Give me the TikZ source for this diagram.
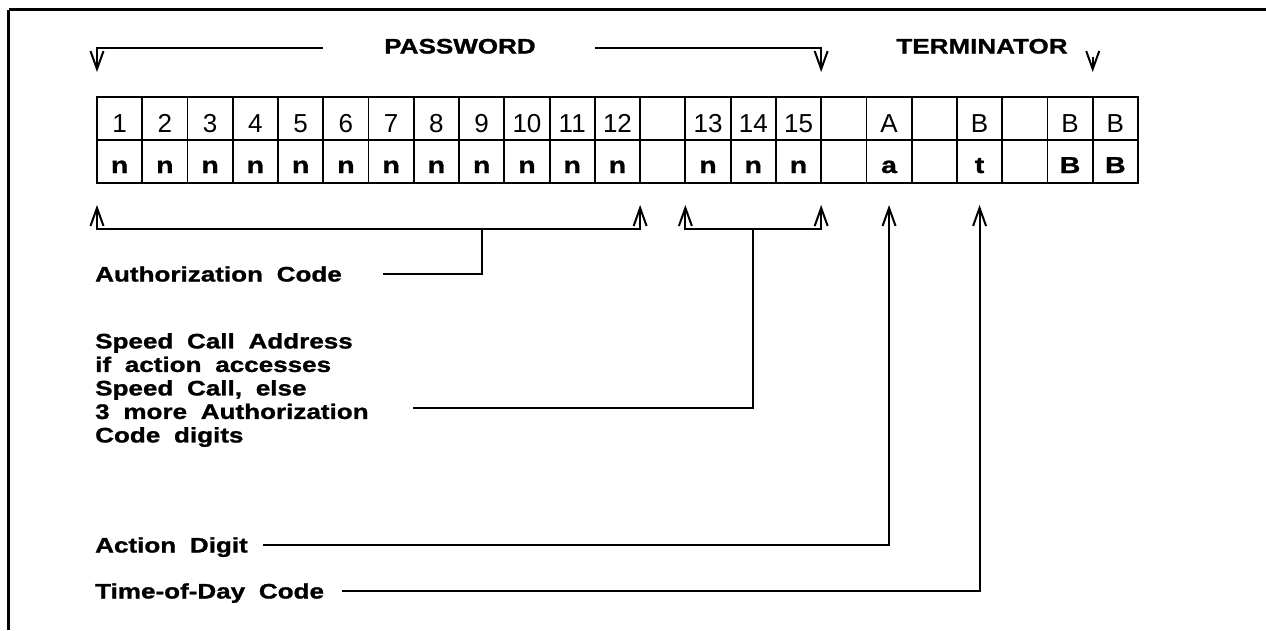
\documentclass[tikz,border=0pt]{standalone}
\usepackage{fontspec}
\setmainfont{Liberation Sans}
\newfontfamily\LabFont{Liberation Sans}[FakeStretch=1.24,WordSpace=1.9,FakeBold=1.2]
\usetikzlibrary{arrows.meta,calc}
\newcommand{\labf}{\LabFont\bfseries\fontsize{21}{23.5}\selectfont}
\newcommand{\hdrf}{\fontsize{26}{26}\selectfont}
\newcommand{\datf}{\LabFont\bfseries\fontsize{23}{23}\selectfont}
\tikzset{
  cell/.style={draw, line width=1.8pt, minimum width=45.26pt, minimum height=43pt, inner sep=0pt, outer sep=0pt},
  hdr/.style={text height=28pt, text depth=0pt, font=\hdrf},
  dat/.style={text height=23pt, text depth=0pt, font=\datf},
  lab/.style={inner sep=0pt, font=\labf},
  capc/.style={text height=15pt, text depth=0pt},
  conn/.style={line width=2pt},
  tipb/.tip={Straight Barb[length=18pt,width=13pt]},
  arr/.style={conn, -tipb},
  dbl/.style={conn, tipb-tipb},
}
\begin{document}
\begin{tikzpicture}[x=1pt,y=-1pt]
\fill[white] (0,0) rectangle (1266,630);
\useasboundingbox (0,0) rectangle (1266,630);
% frame
\draw[line width=3.5pt] (1266,9.5) -- (8.5,9.5);
\draw[line width=2.5pt] (8.5,9.5) -- (8.5,630);
% table
\foreach \tp/\bt [count=\i from 0] in {1/n,2/n,3/n,4/n,5/n,6/n,7/n,8/n,9/n,10/n,11/n,12/n,{}/{},13/n,14/n,15/n,{}/{},A/a,{}/{},B/t,{}/{},B/B,B/B}{
  \node[cell,hdr] (t\i) at ({97+(\i+0.5)*45.26},118.5) {\tp};
  \node[cell,dat] (b\i) at ({97+(\i+0.5)*45.26},161.5) {\bt};
}
% top labels
\node[lab,capc] (pw) at (460,46) {PASSWORD};
\node[lab,capc] (term) at (982,46) {TERMINATOR};
\coordinate (pwL) at (323,48);
\coordinate (pwR) at (595,48);
\draw[arr] (pwL) -| ([yshift=25pt]t0.north west);
\draw[arr] (pwR) -| ([yshift=25pt]t15.north east);
\draw[arr] ([yshift=40pt]t21.north east) -- ([yshift=25pt]t21.north east);
% bottom labels
\node[lab,capc,anchor=west] (auth) at (95,274) {Authorization Code};
\node[lab,anchor=north west,align=left] (speed) at (95,333) {Speed Call Address\\if action accesses\\Speed Call, else\\3 more Authorization\\Code digits};
\node[lab,capc,anchor=west] (act) at (95,545) {Action Digit};
\node[lab,capc,anchor=west] (tod) at (95,591) {Time-of-Day Code};
\coordinate (authEnd) at (383,274);
\coordinate (spEnd) at (413,408);
\coordinate (actEnd) at (263,545);
\coordinate (todEnd) at (342,591);
% brackets
\draw[dbl] ([yshift=-22pt]b0.south west) -- ++(0,24) -| ([yshift=-22pt]b11.south east);
\draw[dbl] ([yshift=-22pt]b13.south west) -- ++(0,24) -| ([yshift=-22pt]b15.south east);
\draw[conn] ([yshift=-46pt]b8.south) |- (authEnd);
\draw[conn] ([yshift=-46pt]b14.south) |- (spEnd);
\draw[arr] (actEnd) -| ([yshift=-22pt]b17.south);
\draw[arr] (todEnd) -| ([yshift=-22pt]b19.south);
\end{tikzpicture}
\end{document}
